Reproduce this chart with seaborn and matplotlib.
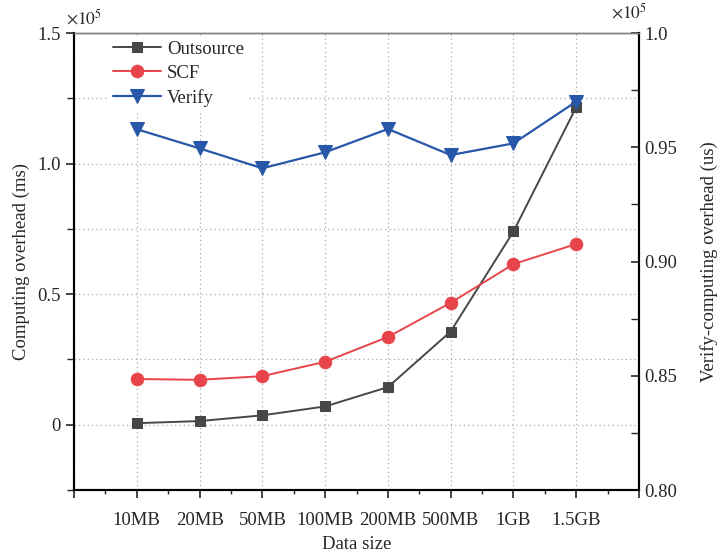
import numpy as np
import pandas as pd
import seaborn as sns
import matplotlib.pyplot as plt
from matplotlib.ticker import MultipleLocator, FixedLocator, FuncFormatter

# values (units of 1e5)
sizes = ['10MB', '20MB', '50MB', '100MB', '200MB', '500MB', '1GB', '1.5GB']
outsource = [0.006, 0.014, 0.036, 0.070, 0.144, 0.357, 0.740, 1.216]
scf = [0.175, 0.172, 0.186, 0.241, 0.336, 0.467, 0.615, 0.692]
verify = [0.9579, 0.9495, 0.9408, 0.9478, 0.9580, 0.9466, 0.9517, 0.9700]

sns.set_style('ticks')
plt.rcParams['font.family'] = ['Liberation Serif', 'DejaVu Serif']
plt.rcParams['mathtext.fontset'] = 'stix'

FS = 13.5
pos = np.arange(1, len(sizes) + 1)
df = pd.DataFrame({'pos': pos, 'Outsource': outsource, 'SCF': scf, 'Verify': verify})

fig = plt.figure(figsize=(7.2, 5.54), dpi=100)
ax = fig.add_axes([0.1028, 0.1155, 0.7847, 0.8249])
ax2 = ax.twinx()

sns.lineplot(data=df, x='pos', y='Outsource', ax=ax, color='#474747', lw=1.4,
             marker='s', markersize=7.5, markeredgecolor='#474747', label='Outsource', legend=False)
sns.lineplot(data=df, x='pos', y='SCF', ax=ax, color='#e8454b', lw=1.4,
             marker='o', markersize=9, markeredgecolor='#e8454b', label='SCF', legend=False)
sns.lineplot(data=df, x='pos', y='Verify', ax=ax2, color='#2757a8', lw=1.6,
             marker='v', markersize=10, markeredgecolor='#2757a8', label='Verify', legend=False)

# x axis
ax.set_xlim(0, len(sizes) + 1)
ax.xaxis.set_major_locator(MultipleLocator(1))
ax.xaxis.set_minor_locator(MultipleLocator(0.5))
ax.xaxis.set_major_formatter(FuncFormatter(
    lambda v, p: sizes[int(round(v)) - 1] if 1 <= round(v) <= len(sizes) else ''))
ax.set_xlabel('Data size', fontsize=FS, labelpad=5)

# left axis
ax.set_ylim(-0.25, 1.5)
ax.yaxis.set_major_locator(FixedLocator([0, 0.5, 1.0, 1.5]))
ax.yaxis.set_minor_locator(MultipleLocator(0.25))
ax.yaxis.set_major_formatter(FuncFormatter(lambda v, p: '0' if v == 0 else f'{v:.1f}'))
ax.set_ylabel('Computing overhead (ms)', fontsize=FS, labelpad=5)

# right axis
ax2.set_ylim(0.80, 1.0)
ax2.yaxis.set_major_locator(FixedLocator([0.80, 0.85, 0.90, 0.95, 1.0]))
ax2.yaxis.set_minor_locator(MultipleLocator(0.025))
ax2.yaxis.set_major_formatter(FuncFormatter(lambda v, p: '1.0' if abs(v - 1) < 1e-9 else f'{v:.2f}'))
ax2.set_ylabel('Verify-computing overhead (us)', fontsize=FS, labelpad=16)

ax.tick_params(axis='both', which='major', direction='out', length=6, width=1.2, labelsize=FS)
ax.tick_params(axis='x', which='major', pad=10)
ax.tick_params(axis='x', which='minor', direction='out', length=3, width=1.0)
ax.tick_params(axis='y', which='minor', direction='out', length=5, width=1.0)
ax2.tick_params(axis='y', which='major', direction='in', length=6, width=1.2, labelsize=FS, pad=4)
ax2.tick_params(axis='y', which='minor', direction='in', length=6, width=1.0)

# grid
ax.grid(True, axis='x', which='major', ls=(0, (1, 2.5)), color='#a8a8a8', lw=0.9)
ax.grid(True, axis='y', which='both', ls=(0, (1, 2.5)), color='#a8a8a8', lw=0.9)
ax2.grid(False)

for a in (ax, ax2):
    for s in ('left', 'bottom', 'right'):
        a.spines[s].set_linewidth(1.5)
        a.spines[s].set_color('black')
    a.spines['top'].set_color('#808080')
    a.spines['top'].set_linewidth(1.0)

fig.text(0.092, 0.957, r'$\times10^5$', fontsize=12.5)
fig.text(0.848, 0.967, r'$\times10^5$', fontsize=12.5)

h1, l1 = ax.get_legend_handles_labels()
h2, l2 = ax2.get_legend_handles_labels()
leg = ax2.legend(h1 + h2, l1 + l2, loc='upper left', bbox_to_anchor=(0.045, 1.012),
                 frameon=True, fontsize=FS, handlelength=2.6, handletextpad=0.3,
                 labelspacing=0.38, borderpad=0.2, fancybox=False)
leg.get_frame().set_edgecolor('none')
leg.get_frame().set_facecolor('white')
leg.get_frame().set_alpha(1)

fig.savefig('out.png', dpi=100)
